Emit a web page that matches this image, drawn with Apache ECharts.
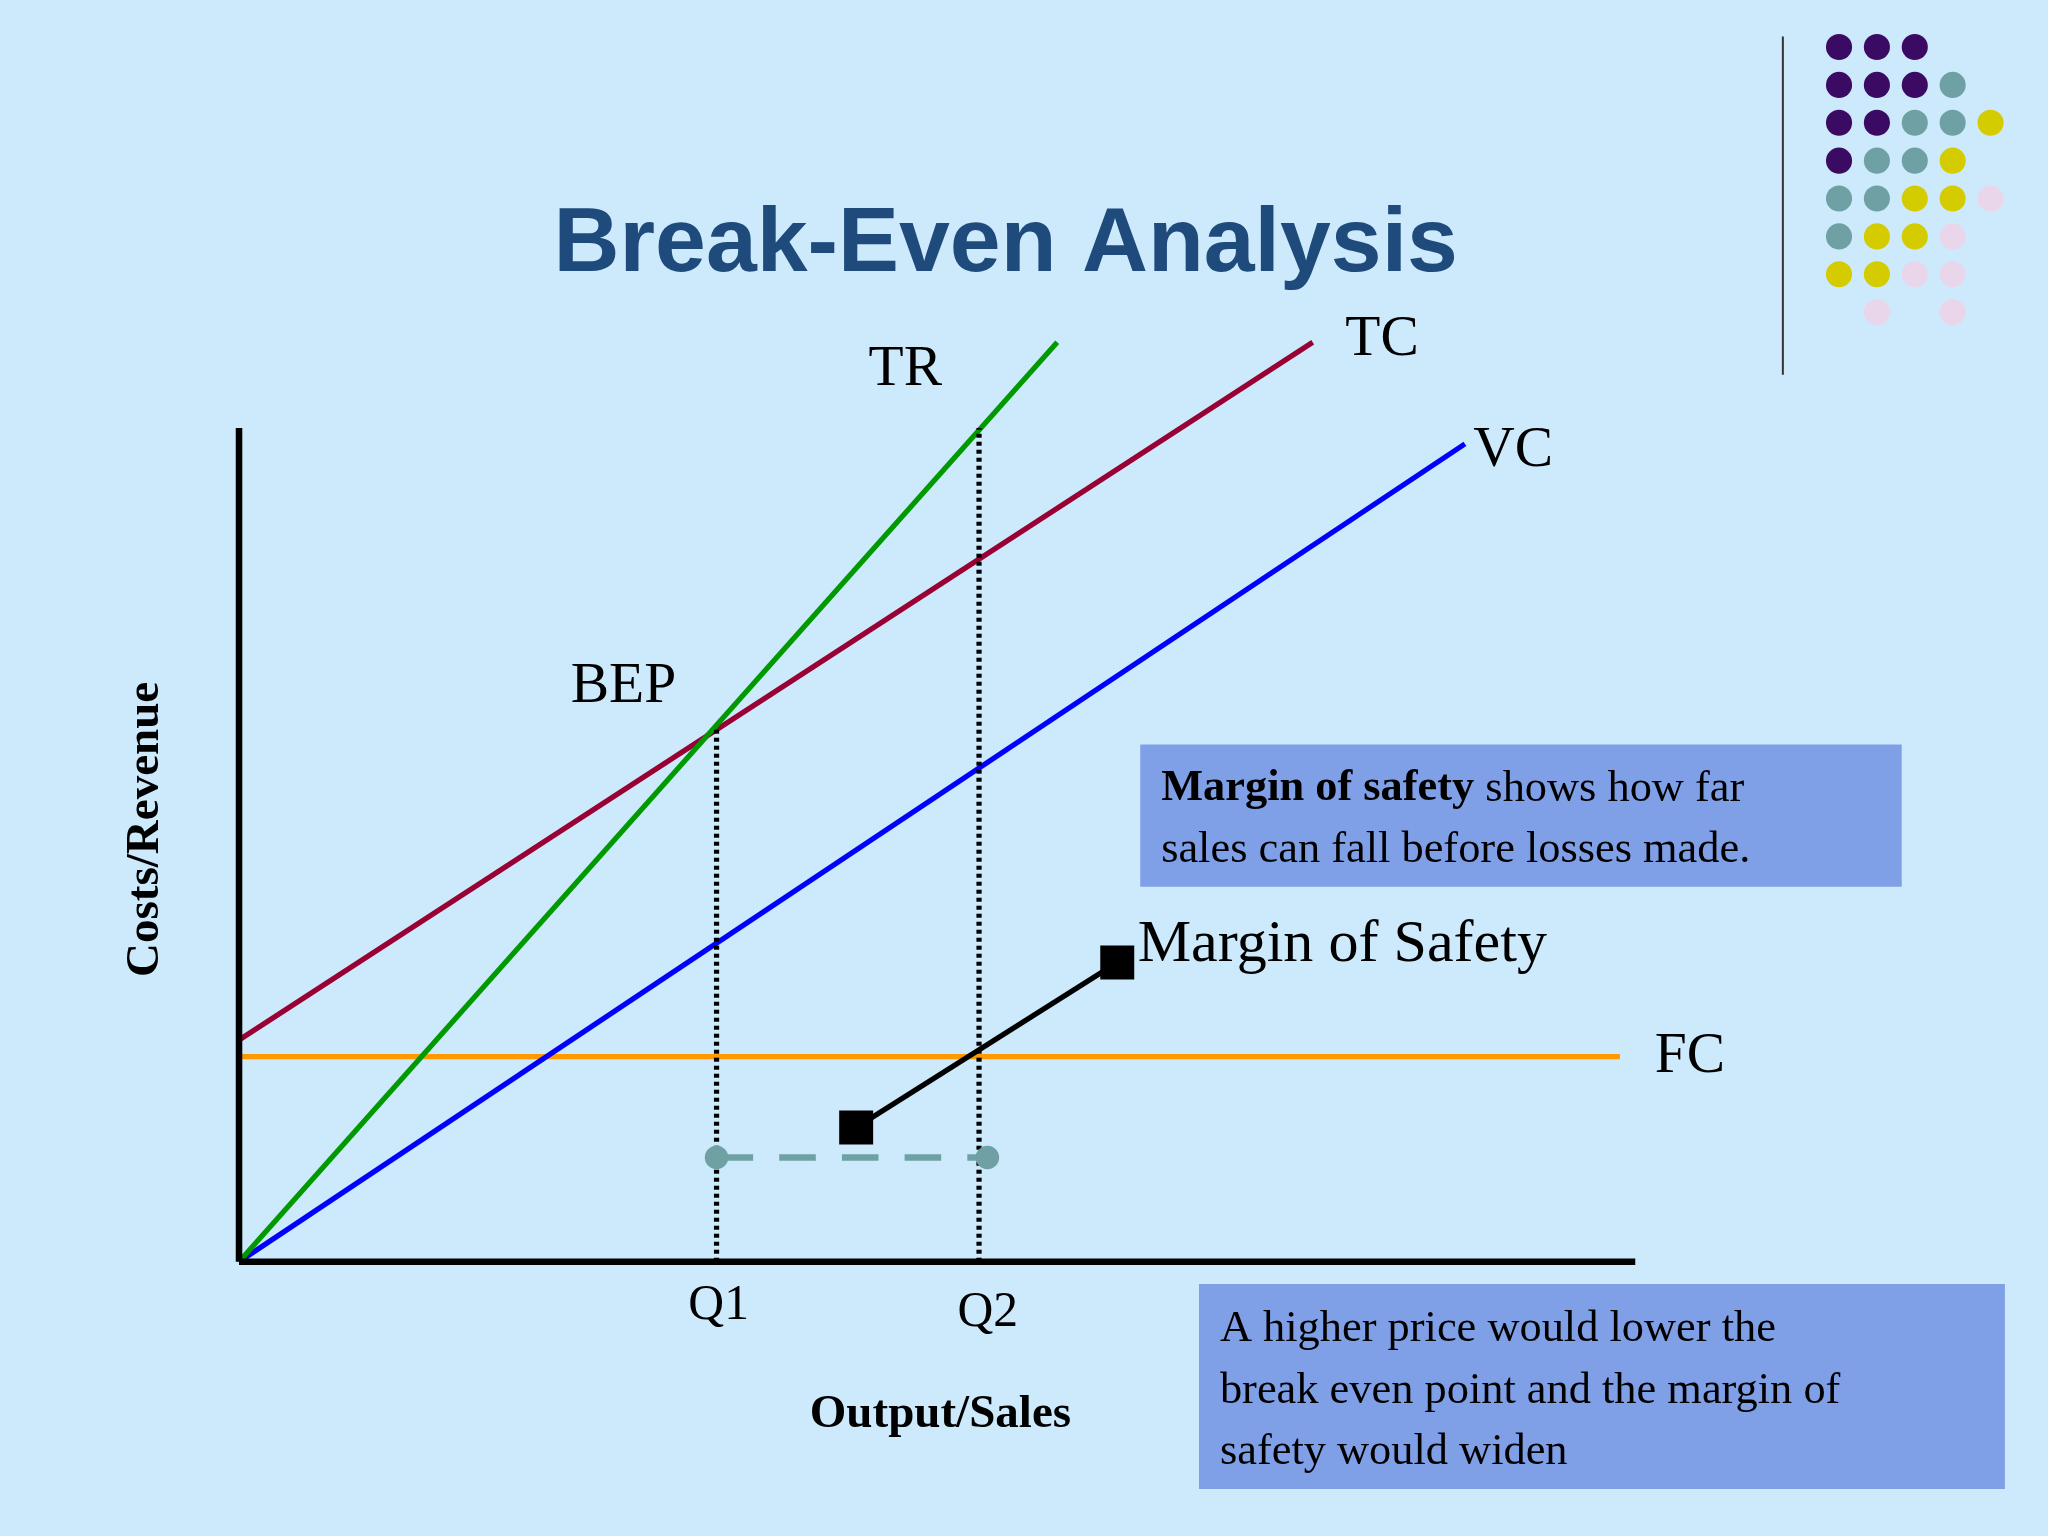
<!DOCTYPE html>
<html>
<head>
<meta charset="utf-8">
<title>Break-Even Analysis</title>
<script src="https://cdn.jsdelivr.net/npm/echarts@6/dist/echarts.min.js"></script>
<style>html,body{margin:0;padding:0;background:#cdeafc;}</style>
</head>
<body>
<div id="main" style="width:2048px;height:1536px;"></div>
<script>
// data in chart units (x: 0..100 output, y: 0..~110 cost)
var trLine = [[0, 0], [58.6, 110.3]];
var tcLine = [[0, 26.6], [76.9, 110.3]];
var vcLine = [[0, 0], [87.8, 98.1]];
var fcLine = [[0, 24.6], [98.9, 24.6]];
var q1 = 34.2, q2 = 53.0, bepY = 63.9, q2Top = 100;
var mosY = 12.5, mosEnd = 53.6;
var arrowLine = [[62.9, 35.9], [44.2, 16.1]];

var s = 2048 / 1568;
var serif = '"Liberation Serif","Times New Roman",serif';

// decorative dot pattern (P purple, T teal, Y yellow, K pink)
var dotRows = ['PPP__', 'PPPT_', 'PPTTY', 'PTTY_', 'TTYYK', 'TYYK_', 'YYKK_', '_K_K_'];
var dotColors = {P: '#3b0a63', T: '#6fa0a3', Y: '#d4cc00', K: '#e9d6ea'};

var graphics = [];
dotRows.forEach(function (row, r) {
  row.split('').forEach(function (c, k) {
    if (c === '_') return;
    graphics.push({type: 'circle', shape: {cx: (1408 + k * 29) * s, cy: (36 + r * 29) * s, r: 10 * s},
      style: {fill: dotColors[c]}});
  });
});
graphics.push({type: 'line', shape: {x1: 1365 * s, y1: 28 * s, x2: 1365 * s, y2: 287 * s},
  style: {stroke: '#333', lineWidth: 2}});

function txt(x, y, t, size, opts) {
  opts = opts || {};
  graphics.push({type: 'text', x: x * s, y: y * s, style: {
    text: t, font: (opts.bold ? 'bold ' : '') + size * s + 'px ' + (opts.font || serif),
    fill: opts.color || '#000', align: opts.align || 'left', verticalAlign: 'middle', rich: opts.rich
  }});
}
txt(770, 188, 'Break-Even Analysis', 70, {bold: true, font: '"Liberation Sans",Arial,sans-serif', color: '#1f4a7c', align: 'center'});
txt(665, 283, 'TR', 44);
txt(1030, 260, 'TC', 44);
txt(1128, 345, 'VC', 44);
txt(437, 526, 'BEP', 44);
txt(1267, 809, 'FC', 44);
txt(871, 724, 'Margin of Safety', 46);
txt(527, 1000, 'Q1', 38);
txt(733, 1005, 'Q2', 38);
txt(720, 1083, 'Output/Sales', 36, {bold: true, align: 'center'});
graphics.push({type: 'text', x: 112 * s, y: 635 * s, rotation: Math.PI / 2, style: {
  text: 'Costs/Revenue', font: 'bold ' + 36 * s + 'px ' + serif, fill: '#000', align: 'center', verticalAlign: 'middle'}});

graphics.push({type: 'rect', shape: {x: 873 * s, y: 570 * s, width: 583 * s, height: 109 * s}, style: {fill: '#7f9fe6'}});
graphics.push({type: 'text', x: 889 * s, y: 604 * s, style: {
  text: '{b|Margin of safety} shows how far', font: 34 * s + 'px ' + serif, fill: '#000', verticalAlign: 'middle',
  rich: {b: {font: 'bold ' + 34 * s + 'px ' + serif, fill: '#000'}}}});
txt(889, 651, 'sales can fall before losses made.', 34);
graphics.push({type: 'rect', shape: {x: 918 * s, y: 983 * s, width: 617 * s, height: 157 * s}, style: {fill: '#7f9fe6'}});
txt(934, 1018, 'A higher price would lower the', 34);
txt(934, 1065, 'break even point and the margin of', 34);
txt(934, 1112, 'safety would widen', 34);

function line(data, color, width, type) {
  return {type: 'line', data: data, symbol: 'none', silent: true, z: 3,
    lineStyle: {color: color, width: width * s, type: type || 'solid'}};
}

var option = {
  backgroundColor: '#cdeafc',
  animation: false,
  grid: {left: 183 * s, right: 2048 - 1252 * s, top: 262 * s - 0.0001, bottom: 1536 - 966 * s},
  xAxis: {type: 'value', min: 0, max: 100, show: false},
  yAxis: {type: 'value', min: 0, max: 110.3, show: false},
  graphic: graphics,
  series: [
    line(fcLine, '#ff9900', 4),
    line(tcLine, '#990033', 4),
    line(vcLine, '#0000ff', 4),
    line(trLine, '#009900', 4),
    line([[q1, 0], [q1, bepY]], '#000', 4, [4, 4]),
    line([[q2, 0], [q2, q2Top]], '#000', 4, [4, 4]),
    {type: 'line', data: [[q1, mosY], [mosEnd, mosY]], symbol: 'circle', symbolSize: 18 * s, z: 4,
      itemStyle: {color: '#6fa0a3'}, lineStyle: {color: '#6fa0a3', width: 5 * s, type: [28 * s, 20 * s]}},
    {type: 'line', data: arrowLine, symbol: ['none', 'arrow'], symbolSize: 26 * s, z: 5,
      itemStyle: {color: '#000'}, lineStyle: {color: '#000', width: 4 * s}},
    line([[0, 0], [0, 100]], '#000', 5),
    line([[0, 0], [100, 0]], '#000', 5)
  ]
};
echarts.init(document.getElementById('main')).setOption(option);
</script>
</body>
</html>
